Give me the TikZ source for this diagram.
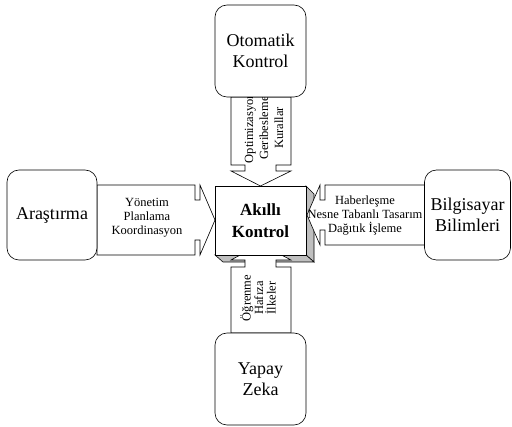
\documentclass[tikz,border=0pt]{standalone}
\usepackage{fontspec}
\setmainfont{Liberation Serif}
\begin{document}
\begin{tikzpicture}[x=1pt,y=-1pt,line width=0.6pt,
  box/.style={draw,rounded corners=12pt,fill=white,inner sep=0pt,align=center,font=\fontsize{18}{21}\selectfont},
  arrowshape/.style={draw,fill=white,line join=miter},
  small/.style={inner sep=0pt,align=center,font=\fontsize{12.5}{14}\selectfont},
  side/.style={draw,fill=black!25}]
\useasboundingbox (0,0) rectangle (512,427);
% 3D sides of centre box
\path[side] (306,186) -- (314,194) -- (314,262) -- (306,255) -- cycle;
\path[side] (215,255) -- (223,262) -- (314,262) -- (306,255) -- cycle;
% arrows
\path[arrowshape] (97,185) -- (195,185) -- (195,200) -- (200,200) -- (200,185) -- (215,220) -- (200,255) -- (200,240) -- (195,240) -- (195,255) -- (97,255) -- cycle;
\path[arrowshape] (425,185) -- (325,185) -- (325,200) -- (320,200) -- (320,185) -- (307,215) -- (320,245) -- (320,230) -- (325,230) -- (325,245) -- (425,245) -- cycle;
\path[arrowshape] (231,97) -- (231,165) -- (245,165) -- (245,171) -- (231,171) -- (260.5,186) -- (291,171) -- (276,171) -- (276,165) -- (291,165) -- (291,97) -- cycle;
\path[arrowshape] (231,333) -- (231,267) -- (245,267) -- (245,260) -- (231,260) -- (260.5,244) -- (291,260) -- (276,260) -- (276,267) -- (291,267) -- (291,333) -- cycle;
% arrow texts
\node[small] (tl) at (147,218) {Yönetim\\Planlama\\Koordinasyon};
\node[small] (tr) at (365,216) {Haberleşme\\Nesne Tabanlı Tasarım\\Dağıtık İşleme};
\node[small,rotate=90,font=\fontsize{12.5}{15}\selectfont] (tt) at (264,128) {Optimizasyon\\Geribesleme\\Kurallar};
\node[small,rotate=90,font=\fontsize{12.5}{12.5}\selectfont] (tb) at (258,298) {Öğrenme\\Hafıza\\İlkeler};
% boxes
\node[box,minimum width=91pt,minimum height=92pt] (oto) at (260.5,51) {Otomatik\\Kontrol};
\node[box,minimum width=90pt,minimum height=90pt] (ara) at (52,215) {Araştırma};
\node[box,minimum width=86pt,minimum height=90pt] (bil) at (467.5,215) {Bilgisayar\\Bilimleri};
\node[box,minimum width=91pt,minimum height=92pt] (yap) at (260.5,379) {Yapay\\Zeka};
% centre box front
\node[draw,fill=white,inner sep=0pt,minimum width=91pt,minimum height=69pt,align=center,font=\fontsize{17}{22}\selectfont\bfseries] (ak) at (260.5,220.5) {Akıllı\\Kontrol};
\end{tikzpicture}
\end{document}
